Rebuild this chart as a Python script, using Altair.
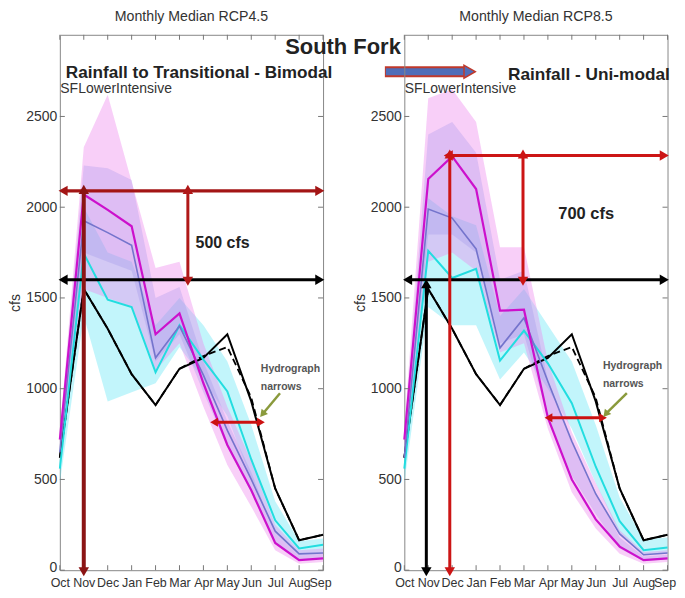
import altair as alt
import pandas as pd

months = ["Oct", "Nov", "Dec", "Jan", "Feb", "Mar", "Apr", "May", "Jun", "Jul", "Aug", "Sep"]
y_ticks = [0, 500, 1000, 1500, 2000, 2500]

hist_solid = [620, 1550, 1330, 1080, 910, 1110, 1170, 1300, 930, 450, 165, 195]
hist_dash = [620, 1550, 1330, 1080, 910, 1110, 1180, 1230, 950, 450, 165, 195]

# RCP4.5 panel
r45_magenta = [720, 2070, 1985, 1895, 1300, 1415, 1030, 690, 440, 150, 55, 65]
r45_slate = [650, 1925, 1860, 1790, 1170, 1345, 1075, 770, 500, 215, 90, 95]
r45_cyan = [560, 1745, 1490, 1450, 1090, 1350, 1160, 985, 610, 275, 120, 140]
r45_pink_hi = [760, 2330, 2620, 2140, 1665, 1700, 1250, 900, 600, 250, 110, 120]
r45_pink_lo = [650, 1550, 1500, 1450, 1100, 1250, 900, 580, 350, 110, 35, 45]
r45_inner_hi = [730, 2230, 2215, 2150, 1500, 1560, 1150, 820, 540, 200, 80, 90]
r45_inner_lo = [640, 1750, 1700, 1650, 1150, 1300, 980, 680, 430, 150, 55, 65]
r45_cyan_hi = [620, 2000, 1750, 1700, 1350, 1500, 1350, 1150, 800, 380, 160, 175]
r45_cyan_lo = [480, 1400, 930, 980, 1030, 1230, 1050, 850, 500, 200, 80, 90]

# RCP8.5 panel
r85_magenta = [720, 2155, 2280, 2100, 1430, 1435, 840, 500, 280, 130, 55, 65]
r85_slate = [620, 1990, 1940, 1770, 1225, 1390, 1040, 710, 420, 200, 85, 95]
r85_cyan = [560, 1760, 1610, 1660, 1155, 1320, 1140, 920, 570, 270, 110, 125]
r85_pink_hi = [780, 2600, 2650, 2470, 1780, 1780, 1150, 760, 480, 220, 100, 110]
r85_pink_lo = [650, 1700, 1750, 1650, 1200, 1250, 780, 430, 230, 90, 35, 45]
r85_inner_hi = [740, 2400, 2470, 2300, 1600, 1650, 1050, 700, 430, 180, 75, 85]
r85_inner_lo = [640, 1850, 1850, 1750, 1250, 1300, 850, 520, 310, 120, 50, 60]
r85_cyan_hi = [620, 2050, 1950, 1900, 1400, 1550, 1350, 1150, 800, 400, 170, 180]
r85_cyan_lo = [480, 1450, 1350, 1350, 1050, 1200, 1000, 780, 480, 200, 80, 90]

W, H = 264, 537
YMAX = 2950
FONT = "Liberation Sans"
xs = alt.Scale(domain=[0, 11], nice=False, zero=False)
ys = alt.Scale(domain=[0, YMAX], nice=False, zero=False)
label_expr = "[" + ",".join("'%s'" % m for m in months) + "][datum.value]"
x_axis = alt.Axis(values=list(range(12)), labelExpr=label_expr, labelFontSize=12.5, labelColor="#333",
                  labelFont=FONT, labelPadding=6, tickSize=0, domain=False, grid=False,
                  labelOverlap=False, labelFlush=False, title=None,
                  labelOffset={"condition": {"test": "datum.value == 11", "value": -3}, "value": 0})
y_axis = alt.Axis(values=y_ticks, format="d", labelFontSize=14, labelColor="#333", labelFont=FONT,
                  labelPadding=3, tickSize=0, domain=False, grid=False, title="cfs", titleFont=FONT,
                  titleFontSize=14, titleFontWeight="normal", titleColor="#333", titlePadding=3,
                  labelOffset={"condition": {"test": "datum.value == 0", "value": -3}, "value": 0})
X = alt.X("m:Q", scale=xs, axis=x_axis)
Y = alt.Y("v:Q", scale=ys, axis=y_axis)
MIDX = list(range(12))


def band(lo, hi, color, opacity):
    df = pd.DataFrame({"m": MIDX, "lo": lo, "hi": hi})
    return alt.Chart(df).mark_area(color=color, opacity=opacity).encode(
        x=X, y=alt.Y("hi:Q", scale=ys, axis=y_axis), y2="lo:Q")


def line(vals, color, width, dash=None):
    df = pd.DataFrame({"m": MIDX, "v": vals})
    kw = dict(color=color, strokeWidth=width)
    if dash:
        kw["strokeDash"] = dash
    return alt.Chart(df).mark_line(**kw).encode(x=X, y=Y)


def heads(pts, color, size):
    df = pd.DataFrame({"m": [p[0] for p in pts], "v": [p[1] for p in pts], "ang": [p[2] for p in pts]})
    return alt.Chart(df).mark_point(shape="triangle", filled=True, size=size, color=color, opacity=1).encode(
        x=X, y=Y, angle=alt.Angle("ang:Q", scale=None))


def hline(x1, x2, yv, color, sw, size=110):
    df = pd.DataFrame({"m": [x1], "m2": [x2], "v": [yv]})
    r = alt.Chart(df).mark_rule(color=color, strokeWidth=sw).encode(x=X, x2="m2:Q", y=Y)
    return [r, heads([(x1, yv, 270), (x2, yv, 90)], color, size)]


def vline(xv, y1, y2, color, sw, size=110):
    df = pd.DataFrame({"m": [xv], "v": [y1], "v2": [y2]})
    r = alt.Chart(df).mark_rule(color=color, strokeWidth=sw).encode(x=X, y=Y, y2="v2:Q")
    return [r, heads([(xv, y1, 180), (xv, y2, 0)], color, size)]


def slant(x1, y1, x2, y2, color, ang):
    df = pd.DataFrame({"m": [x1], "m2": [x2], "v": [y1], "v2": [y2]})
    r = alt.Chart(df).mark_rule(color=color, strokeWidth=2.5).encode(x=X, x2="m2:Q", y=Y, y2="v2:Q")
    return [r, heads([(x2, y2, ang)], color, 70)]


def txt(x, y, s, size, weight="bold", color="#222", align="center"):
    df = pd.DataFrame({"m": [x], "v": [y]})
    return alt.Chart(df).mark_text(text=s, fontSize=size, fontWeight=weight, color=color, align=align,
                                   baseline="middle", font=FONT).encode(x=X, y=Y)


def ptxt(px, py, s, size, weight="bold", color="#222", align="center"):
    df = pd.DataFrame({"a": [0]})
    return alt.Chart(df).mark_text(text=s, fontSize=size, fontWeight=weight, color=color, align=align,
                                   baseline="middle", font=FONT).encode(x=alt.value(px), y=alt.value(py))


def frame_ticks():
    dm = pd.DataFrame({"m": MIDX})
    dv = pd.DataFrame({"v": y_ticks})
    tc = "#777"
    return [
        alt.Chart(dm).mark_rule(color=tc).encode(x=X, y=alt.value(H), y2=alt.value(H - 5)),
        alt.Chart(dm).mark_rule(color=tc).encode(x=X, y=alt.value(0), y2=alt.value(5)),
        alt.Chart(dv).mark_rule(color=tc).encode(y=Y, x=alt.value(0), x2=alt.value(5)),
        alt.Chart(dv).mark_rule(color=tc).encode(y=Y, x=alt.value(W), x2=alt.value(W - 5)),
    ]


def panel(title, mag, sla, cya, p_hi, p_lo, i_hi, i_lo, c_hi, c_lo, extra):
    layers = [
        band(c_lo, c_hi, "#66e6f5", 0.4),
        band(p_lo, p_hi, "#ee88ee", 0.4),
        band(i_lo, i_hi, "#8f86e6", 0.25),
        line(hist_solid, "black", 2),
        line(hist_dash, "black", 1.8, [7, 4]),
        line(cya, "#22dde0", 2),
        line(sla, "#7474cc", 1.6),
        line(mag, "#cc11cc", 2.2),
    ] + frame_ticks() + extra
    return alt.layer(*layers).properties(
        width=W, height=H,
        title=alt.TitleParams(title, fontSize=14.2, font=FONT, fontWeight="normal", color="#333",
                              offset=10.3, anchor="middle"))


left_extra = []
left_extra += hline(0.2, 10.8, 1600, "black", 3)
left_extra += hline(0.2, 10.8, 2090, "#a31515", 3.5)
left_extra += vline(5.35, 1600, 2090, "#b01818", 3)
left_extra += vline(1.0, 0, 2090, "#8b1414", 4)
left_extra += hline(6.5, 8.35, 815, "#cc1111", 3, 80)
left_extra += slant(9.2, 975, 8.5, 865, "#8a9a3c", 220)
left_extra += [
    txt(6.8, 1800, "500 cfs", 16),
    txt(8.4, 1110, "Hydrograph", 10.5, color="#555", align="left"),
    txt(8.4, 1011, "narrows", 10.5, color="#555", align="left"),
    txt(0.02, 2650, "SFLowerIntensive", 14, weight="normal", color="#333", align="left"),
    ptxt(284, 12, "South Fork", 22),
    ptxt(6, 38, "Rainfall to Transitional  - Bimodal", 17.2, align="left"),
]
dummy = pd.DataFrame({"a": [0]})
left_extra += [
    alt.Chart(dummy).mark_rule(color="#c0392b", strokeWidth=11).encode(
        x=alt.value(326), x2=alt.value(407), y=alt.value(37)),
    alt.Chart(dummy).mark_rule(color="#4f6db8", strokeWidth=7).encode(
        x=alt.value(327), x2=alt.value(406), y=alt.value(37)),
    alt.Chart(dummy).mark_point(shape="triangle-right", filled=True, size=170, fill="#4f6db8",
                                stroke="#c0392b", strokeWidth=1.5, opacity=1).encode(
        x=alt.value(411), y=alt.value(37)),
]

right_extra = []
right_extra += hline(0.2, 10.8, 1600, "black", 3)
right_extra += hline(1.9, 10.8, 2285, "#cc1515", 3)
right_extra += vline(4.96, 1600, 2285, "#cc1515", 3)
right_extra += vline(1.9, 0, 2285, "#cc1515", 3)
right_extra += vline(0.92, 0, 1570, "black", 3)
right_extra += hline(6.08, 8.25, 840, "#cc1111", 3, 80)
right_extra += slant(9.3, 975, 8.45, 865, "#8a9a3c", 220)
right_extra += [
    txt(7.6, 1962, "700 cfs", 16.5),
    txt(8.3, 1126, "Hydrograph", 10.5, color="#555", align="left"),
    txt(8.3, 1027, "narrows", 10.5, color="#555", align="left"),
    txt(0.02, 2650, "SFLowerIntensive", 14, weight="normal", color="#333", align="left"),
    ptxt(104, 40, "Rainfall - Uni-modal", 17.3, align="left"),
]

left = panel("Monthly Median RCP4.5", r45_magenta, r45_slate, r45_cyan, r45_pink_hi, r45_pink_lo,
             r45_inner_hi, r45_inner_lo, r45_cyan_hi, r45_cyan_lo, left_extra)
right = panel("Monthly Median RCP8.5", r85_magenta, r85_slate, r85_cyan, r85_pink_hi, r85_pink_lo,
              r85_inner_hi, r85_inner_lo, r85_cyan_hi, r85_cyan_lo, right_extra)

chart = alt.hconcat(left, right, spacing=81.5, bounds="flush").properties(
    padding={"left": 0, "top": 0, "right": 0, "bottom": 0}
).configure_view(stroke="#888", strokeWidth=1)

chart.save("out.html", embed_options={"renderer": "svg", "actions": False})
